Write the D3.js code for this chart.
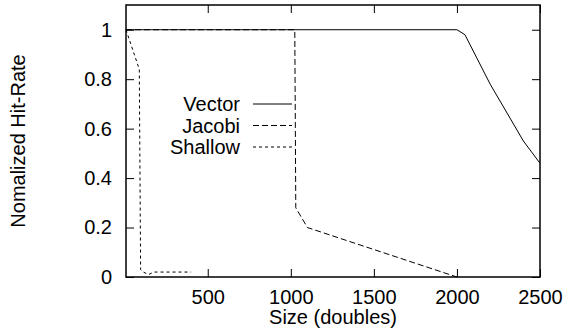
<!DOCTYPE html>
<meta charset="utf-8">
<style>
body { margin: 0; background: #fff; }
text { font-family: "Liberation Sans", Arial, sans-serif; fill: #000; }
.frame { fill: none; stroke: #000; stroke-width: 1.5px; }
.tick line { stroke: #000; stroke-width: 1px; }
.series { fill: none; stroke: #000; stroke-width: 1px; }
</style>
<svg width="566" height="334"></svg>
<script src="https://d3js.org/d3.v7.min.js"></script>
<script>

// data
var vectorX = [8, 2000, 2048, 2200, 2400, 2500];
var vectorY = [1, 1, 0.98, 0.78, 0.55, 0.46];

var jacobiX = [8, 1024, 1030, 1100, 2000];
var jacobiY = [1, 1, 0.28, 0.2, 0];

var shallowX = [8, 88, 96, 112, 144, 176, 400];
var shallowY = [1, 0.84, 0.03, 0.02, 0.01, 0.02, 0.02];

var xTicks = [500, 1000, 1500, 2000, 2500];
var yTicks = [0, 0.2, 0.4, 0.6, 0.8, 1];

var seriesNames = ["Vector", "Jacobi", "Shallow"];
var seriesDash = [null, "6,3", "3,3"];

var svg = d3.select("svg"),
    width = +svg.attr("width"),
    height = +svg.attr("height");

var margin = {top: 5, right: 26, bottom: 57, left: 126};
var x = d3.scaleLinear().domain([8, 2500]).range([margin.left, width - margin.right]);
var y = d3.scaleLinear().domain([0, 1.1]).range([height - margin.bottom, margin.top]);

var tickLen = 8;
var fs = "20px";

// ticks on all four sides, pointing inward
var g = svg.append("g");
g.append("g").attr("transform", "translate(0," + y(0) + ")")
    .call(d3.axisBottom(x).tickValues(xTicks).tickSizeInner(-tickLen).tickSizeOuter(0).tickPadding(13).tickFormat(d3.format("d")))
    .call(function(a) { a.select(".domain").remove(); });
g.append("g").attr("transform", "translate(0," + y(1.1) + ")")
    .call(d3.axisTop(x).tickValues(xTicks).tickSizeInner(-tickLen).tickSizeOuter(0).tickFormat(""))
    .call(function(a) { a.select(".domain").remove(); });
g.append("g").attr("transform", "translate(" + x(8) + ",0)")
    .call(d3.axisLeft(y).tickValues(yTicks).tickSizeInner(-tickLen).tickSizeOuter(0).tickPadding(14).tickFormat(d3.format("")))
    .call(function(a) { a.select(".domain").remove(); });
g.append("g").attr("transform", "translate(" + x(2500) + ",0)")
    .call(d3.axisRight(y).tickValues(yTicks).tickSizeInner(-tickLen).tickSizeOuter(0).tickFormat(""))
    .call(function(a) { a.select(".domain").remove(); });

g.selectAll(".tick text").style("font-size", fs).style("font-family", "'Liberation Sans', Arial, sans-serif");

svg.append("rect").attr("class", "frame")
    .attr("x", x(8)).attr("y", y(1.1))
    .attr("width", x(2500) - x(8)).attr("height", y(0) - y(1.1));

// series
var line = d3.line().x(function(d) { return x(d[0]); }).y(function(d) { return y(d[1]); });
var allX = [vectorX, jacobiX, shallowX], allY = [vectorY, jacobiY, shallowY];

seriesNames.forEach(function(name, i) {
  var pts = d3.zip(allX[i], allY[i]);
  svg.append("path").attr("class", "series")
      .attr("d", line(pts))
      .attr("stroke-dasharray", seriesDash[i]);

  // legend
  var ly = 104 + i * 21.5;
  svg.append("text").attr("x", 240).attr("y", ly + 7)
      .attr("text-anchor", "end").style("font-size", fs).text(name);
  svg.append("line").attr("class", "series")
      .attr("x1", 253).attr("x2", 292).attr("y1", ly).attr("y2", ly)
      .attr("stroke-dasharray", seriesDash[i]);
});

// axis titles
svg.append("text").attr("x", (x(8) + x(2500)) / 2).attr("y", 324)
    .attr("text-anchor", "middle").style("font-size", fs).text("Size (doubles)");
svg.append("text").attr("transform", "translate(25,141) rotate(-90)")
    .attr("text-anchor", "middle").style("font-size", fs).text("Nomalized Hit-Rate");

</script>
